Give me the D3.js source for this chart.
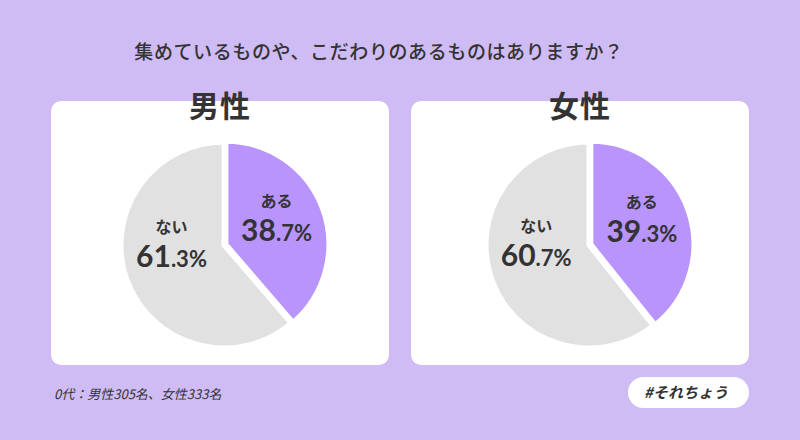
<!DOCTYPE html>
<html><head><meta charset="utf-8">
<script src="https://cdn.jsdelivr.net/npm/d3@7"></script>
<style>body{margin:0;background:#d0bcf5;}svg{display:block;}</style>
</head><body>
<svg id="c" width="800" height="440"></svg>
<script>
const title = "集めているものや、こだわりのあるものはありますか？";
const groups = ["男性", "女性"];
const categories = ["ある", "ない"];
const maleValues = [38.7, 61.3];
const femaleValues = [39.3, 60.7];
const footnote = "0代：男性305名、女性333名";
const tag = "#それちょう";

const colors = {bg:"#d0bcf5", card:"#ffffff", yes:"#b994fc", no:"#e1e1e1", text:"#333333"};
const FONT = "'Noto Sans CJK JP','Noto Sans',sans-serif";
const NUMFONT = "Lato,'Noto Sans',sans-serif";
const svg = d3.select("#c");
svg.append("rect").attr("width",800).attr("height",440).attr("fill",colors.bg);

svg.append("text").attr("x",379).attr("y",59).attr("text-anchor","middle")
  .attr("font-family",FONT).attr("font-size",19).attr("font-weight",500)
  .attr("letter-spacing",0.6).attr("fill",colors.text).text(title);

const panels = [
  {name:groups[0], values:maleValues, x:51, cx:224},
  {name:groups[1], values:femaleValues, x:411, cx:589}
];
const pie = d3.pie().sort(null).startAngle(0).endAngle(2*Math.PI);
const r = 103;
const arc = d3.arc().innerRadius(0).outerRadius(r);
const labelArc = d3.arc().innerRadius(56).outerRadius(56);

panels.forEach(p => {
  const g = svg.append("g");
  g.append("rect").attr("x",p.x).attr("y",101).attr("width",338).attr("height",264)
    .attr("rx",10).attr("fill",colors.card);
  g.append("text").attr("x",p.x+169).attr("y",117).attr("text-anchor","middle")
    .attr("font-family",FONT).attr("font-size",30).attr("font-weight",700)
    .attr("fill",colors.text).attr("letter-spacing",1).text(p.name);
  const pg = g.append("g").attr("transform",`translate(${p.cx},245)`);
  const data = pie(p.values);
  pg.selectAll("path").data(data).join("path")
    .attr("d",arc)
    .attr("transform",(d,i)=>{ if(i!==0) return null; const m=(d.startAngle+d.endAngle)/2; return `translate(${2*Math.sin(m)},${-2*Math.cos(m)})`; })
    .attr("fill",(d,i)=> i===0?colors.yes:colors.no)
    .attr("stroke","#fff").attr("stroke-width",5).attr("stroke-linejoin","miter");
  data.forEach((d,i)=>{
    const [lx,ly] = labelArc.centroid(d);
    const yOff = i===0 ? -5 : -17;
    const s = p.values[i].toFixed(1).split(".");
    const t = pg.append("g").attr("transform",`translate(${lx},${ly+yOff})`);
    t.append("text").attr("y",-14).attr("text-anchor","middle")
      .attr("font-family",FONT).attr("font-size",16).attr("font-weight",700)
      .attr("fill",colors.text).text(categories[i]);
    const nt = t.append("text").attr("y",20).attr("text-anchor","middle")
      .attr("font-family",NUMFONT).attr("font-weight",700).attr("fill",colors.text);
    nt.append("tspan").attr("font-size",30).text(s[0]);
    nt.append("tspan").attr("font-size",22).text("."+s[1]+"%");
  });
});

svg.append("text").attr("x",54).attr("y",399)
  .attr("font-family",FONT).attr("font-size",13).attr("font-style","italic")
  .attr("fill",colors.text).text(footnote);

svg.append("rect").attr("x",628).attr("y",377).attr("width",121).attr("height",31)
  .attr("rx",15.5).attr("fill",colors.card);
svg.append("text").attr("x",686).attr("y",398).attr("text-anchor","middle")
  .attr("font-family",FONT).attr("font-size",15).attr("font-weight",700).attr("font-style","italic")
  .attr("fill",colors.text).text(tag);
</script>
</body></html>
